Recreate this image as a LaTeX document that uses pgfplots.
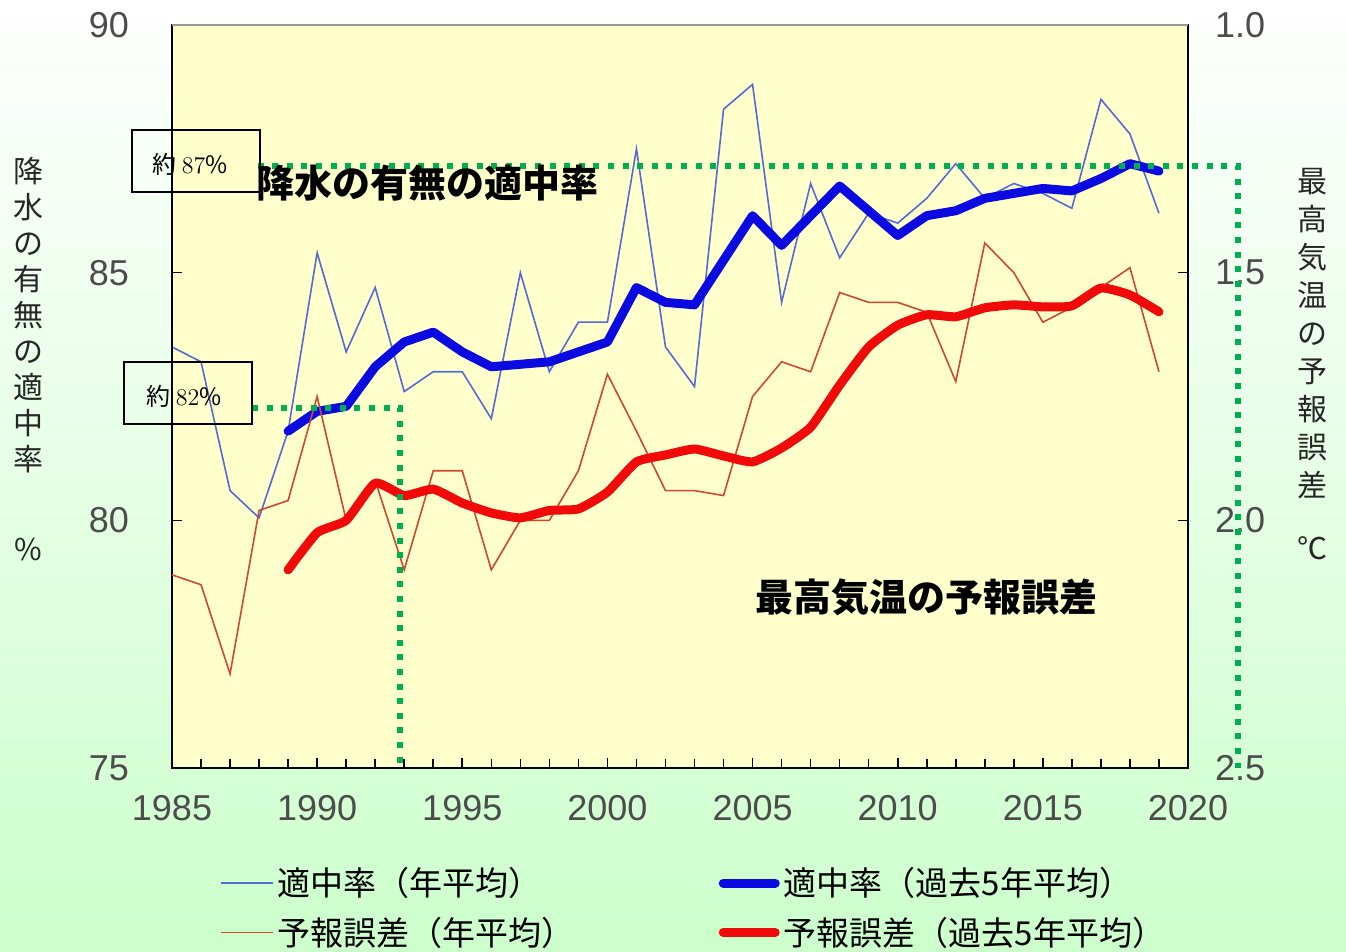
\documentclass[border=0pt]{standalone}
\usepackage{fontspec}
\setmainfont{Noto Sans CJK JP}
\newfontfamily\tickfont{Liberation Sans}
\usepackage{pgfplots}
\pgfplotsset{compat=1.18}

\definecolor{plotbg}{RGB}{255,255,204}
\definecolor{bgreen}{RGB}{204,255,204}
\definecolor{thinblue}{RGB}{85,105,215}
\definecolor{thinred}{RGB}{210,70,50}
\definecolor{thickblue}{RGB}{10,10,225}
\definecolor{thickred}{RGB}{240,10,10}
\definecolor{dotgreen}{RGB}{0,176,80}

\pgfplotsset{
  ticklab/.style={font=\tickfont\fontsize{18}{18}\selectfont, text=black!70},
  thinline/.style={line width=0.8pt, mark=none},
  thickline/.style={line width=4.5pt, mark=none, line join=round, line cap=round},
}

\begin{document}
\begin{tikzpicture}[x=1pt,y=1pt]
\useasboundingbox (0,0) rectangle (673,476);
\shade[top color=white, bottom color=bgreen] (0,0) rectangle (673,476);

% left axis: hit rate
\begin{axis}[
    at={(86pt,92pt)}, anchor=south west,
    scale only axis, width=508pt, height=371.5pt,
    xmin=1985, xmax=2020, ymin=75, ymax=90,
    xtick={1985,1990,...,2020}, minor x tick num=4,
    ytick={75,80,85,90},
    xtick pos=bottom, ytick pos=left,
    tick align=inside,
    major tick length=5pt, minor tick length=4.5pt,
    tick style={black, line width=0.8pt},
    axis line style={line width=0.9pt},
    axis background/.style={fill=plotbg},
    /pgf/number format/assume math mode=true,
    /pgf/number format/1000 sep={},
    xticklabel style={ticklab, yshift=-10pt},
    yticklabel style={ticklab, xshift=-18pt},
]
\addplot[thinline, color=thinblue] coordinates {
(1985,83.5) (1986,83.2) (1987,80.6) (1988,80.05) (1989,81.8)
(1990,85.4) (1991,83.4) (1992,84.7) (1993,82.6) (1994,83.0)
(1995,83.0) (1996,82.05) (1997,85.0) (1998,83.0) (1999,84.0)
(2000,84.0) (2001,87.5) (2002,83.5) (2003,82.7) (2004,88.3)
(2005,88.8) (2006,84.4) (2007,86.8) (2008,85.3) (2009,86.2)
(2010,86.0) (2011,86.5) (2012,87.2) (2013,86.5) (2014,86.8)
(2015,86.6) (2016,86.3) (2017,88.5) (2018,87.8) (2019,86.2)
};
\addplot[thickline, color=thickblue] coordinates {
(1989,81.8) (1990,82.2) (1991,82.3) (1992,83.1) (1993,83.6)
(1994,83.8) (1995,83.4) (1996,83.1) (1997,83.15) (1998,83.2)
(1999,83.4) (2000,83.6) (2001,84.7) (2002,84.4) (2003,84.35)
(2004,85.25) (2005,86.15) (2006,85.55) (2007,86.15) (2008,86.75)
(2009,86.25) (2010,85.75) (2011,86.15) (2012,86.25) (2013,86.5)
(2014,86.6) (2015,86.7) (2016,86.65) (2017,86.9) (2018,87.2)
(2019,87.05)
};
\end{axis}

% right axis: forecast error of max temperature
\begin{axis}[
    at={(86pt,92pt)}, anchor=south west,
    scale only axis, width=508pt, height=371.5pt,
    xmin=1985, xmax=2020, ymin=1, ymax=2.5, y dir=reverse,
    hide x axis,
    ytick={1,1.5,2,2.5}, ytick pos=right,
    tick align=inside, major tick length=5pt,
    tick style={black, line width=0.8pt},
    axis line style={line width=0.9pt},
    clip=false,
    yticklabel style={ticklab, xshift=10pt,
      /pgf/number format/.cd, fixed, fixed zerofill, precision=1,
      assume math mode=true},
    legend columns=2,
    legend cell align=left,
    legend image code/.code={\draw[#1] (0pt,0pt) -- (26pt,0pt);},
    legend style={at={(0.047,-0.128)}, anchor=north west,
      draw=none, fill=none, inner sep=0pt,
      font=\fontsize{16.5}{18}\selectfont,
      row sep=5pt,
      /tikz/every odd column/.append style={column sep=0pt},
      /tikz/every even column/.append style={column sep=70pt}},
]
\addlegendimage{thinline, color=thinblue}
\addlegendimage{thickline, color=thickblue}
\addplot[thinline, color=thinred] coordinates {
(1985,2.11) (1986,2.13) (1987,2.31) (1988,1.98) (1989,1.96)
(1990,1.75) (1991,2.00) (1992,1.92) (1993,2.10) (1994,1.90)
(1995,1.90) (1996,2.10) (1997,2.00) (1998,2.00) (1999,1.90)
(2000,1.705) (2001,1.82) (2002,1.94) (2003,1.94) (2004,1.95)
(2005,1.75) (2006,1.68) (2007,1.70) (2008,1.54) (2009,1.56)
(2010,1.56) (2011,1.58) (2012,1.72) (2013,1.44) (2014,1.50)
(2015,1.60) (2016,1.57) (2017,1.53) (2018,1.49) (2019,1.70)
};
\addplot[thickline, color=thickred, smooth, tension=0.3] coordinates {
(1989,2.10) (1990,2.025) (1991,2.00) (1992,1.925) (1993,1.95)
(1994,1.937) (1995,1.965) (1996,1.985) (1997,1.995) (1998,1.98)
(1999,1.977) (2000,1.943) (2001,1.882) (2002,1.868) (2003,1.856)
(2004,1.87) (2005,1.882) (2006,1.854) (2007,1.812) (2008,1.727)
(2009,1.65) (2010,1.606) (2011,1.585) (2012,1.589) (2013,1.571)
(2014,1.565) (2015,1.569) (2016,1.567) (2017,1.531) (2018,1.545)
(2019,1.579)
};
\legend{適中率（年平均）, 適中率（過去5年平均）,
        予報誤差（年平均）, 予報誤差（過去5年平均）}
% guide lines for about 87% and about 82%
\draw[dotgreen, line width=2.7pt, dash pattern=on 3pt off 4.3pt]
  (axis cs:1987.95,1.285) -- (axis cs:2021.72,1.285) -- (axis cs:2021.72,2.5);
\draw[dotgreen, line width=2.7pt, dash pattern=on 3pt off 4.3pt]
  (axis cs:1987.76,1.773) -- (axis cs:1992.85,1.773) -- (axis cs:1992.85,2.5);
\end{axis}

\draw[black!40, line width=1pt] (86,463.5) -- (594,463.5);

% annotation boxes
\draw[line width=0.6pt] (66,380) rectangle (130,411);
\node[font=\fontsize{12}{12}\selectfont] at (95,394) {約 $87\%$};
\draw[line width=0.6pt] (62,264) rectangle (126,295);
\node[font=\fontsize{12}{12}\selectfont] at (92,278) {約 $82\%$};

% in-plot titles
\node[font=\fontsize{19}{19}\selectfont\bfseries] at (213.75,384.5) {降水の有無の適中率};
\node[font=\fontsize{19}{19}\selectfont\bfseries] at (463.25,177.5) {最高気温の予報誤差};

% vertical axis titles
\node[font=\fontsize{15}{18}\selectfont, align=center, anchor=north, text=black!85]
  at (14,401) {降\\水\\の\\有\\無\\の\\適\\中\\率};
\node[font=\fontsize{15}{15}\selectfont, text=black!85] at (14,201) {\%};
\node[font=\fontsize{15}{19}\selectfont, align=center, anchor=north, text=black!85]
  at (656,395.5) {最\\高\\気\\温\\の\\予\\報\\誤\\差};
\node[font=\fontsize{15}{15}\selectfont, text=black!85] at (656,202) {℃};
\end{tikzpicture}
\end{document}
